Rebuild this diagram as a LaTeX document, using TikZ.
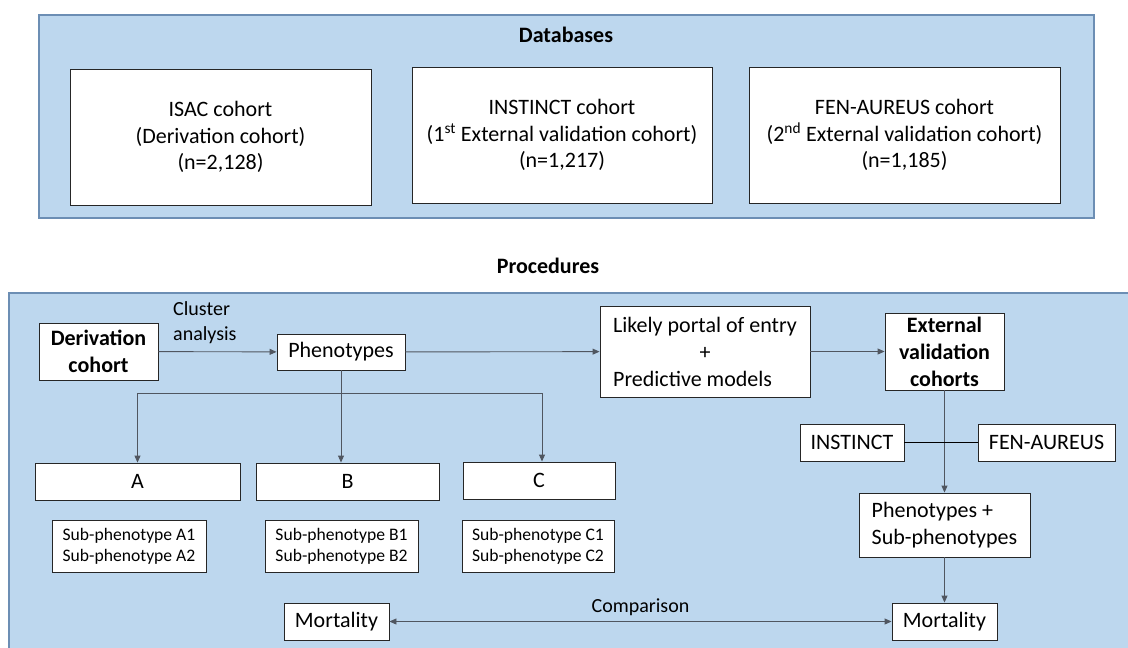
\documentclass[tikz,border=0pt]{standalone}
\usepackage{fontspec}
\setmainfont{Carlito}
\usetikzlibrary{arrows.meta}

\definecolor{panelblue}{RGB}{189,215,238}
\definecolor{paneledge}{RGB}{108,142,180}
\definecolor{linkgray}{RGB}{80,86,96}

\begin{document}
\begin{tikzpicture}[x=1pt,y=1pt,yscale=-1,xscale=1,
  box/.style={draw=black!85,fill=white,line width=0.9pt,inner sep=2pt,align=center,font=\fontsize{22}{26.5}\selectfont},
  boldbox/.style={box,font=\fontsize{22}{27}\selectfont\bfseries},
  subbox/.style={box,font=\fontsize{17.6}{21}\selectfont},
  panel/.style={draw=paneledge,fill=panelblue,line width=1.2pt},
  heading/.style={font=\fontsize{22}{26}\selectfont\bfseries},
  note/.style={font=\fontsize{20}{25}\selectfont,align=left,inner sep=0pt},
  link/.style={draw=linkgray,line width=0.9pt,-{Triangle[length=7pt,width=6pt]}},
  bothlink/.style={link,{Triangle[length=7pt,width=6pt]}-{Triangle[length=7pt,width=6pt]}}]
  \useasboundingbox (0,0) rectangle (1128,648);
  \clip (0,0) rectangle (1128,648);

  % Databases panel
  \draw [panel] (39,15) rectangle (1094,218);
  \node [heading] (dbtitle) at (566,35) {Databases};
  \node [box,minimum width=301pt,minimum height=136pt] (isac) at (220.5,137) {ISAC cohort\\(Derivation cohort)\\(n=2,128)};
  \node [box,minimum width=300pt,minimum height=136pt] (instinctdb) at (562,135) {INSTINCT cohort\\(1\textsuperscript{st} External validation cohort)\\(n=1,217)};
  \node [box,minimum width=311pt,minimum height=136pt] (fendb) at (904.5,135) {FEN-AUREUS cohort\\(2\textsuperscript{nd} External validation cohort)\\(n=1,185)};

  % Procedures panel
  \node [heading] (proctitle) at (548,266) {Procedures};
  \draw [panel] (9,293) rectangle (1140,660);

  \node [boldbox,minimum width=119pt,minimum height=57pt] (deriv) at (98.5,351.5) {Derivation\\cohort};
  \node [box,minimum width=128pt,minimum height=36pt] (pheno) at (341,352) {Phenotypes};
  \node [box,align=left,minimum width=210pt,minimum height=91pt,font=\fontsize{22}{27}\selectfont] (portal) at (705,351.5) {Likely portal of entry\\\null\hfill+\hfill\null\\Predictive models};
  \node [boldbox,minimum width=119pt,minimum height=77pt] (extval) at (944.5,351.5) {External\\validation\\cohorts};
  \node [note,anchor=west] (cluster) at (173,322.5) {Cluster\\analysis};

  \node [box,minimum width=104pt,minimum height=37pt] (instinct) at (852,442.5) {INSTINCT};
  \node [box,minimum width=137pt,minimum height=37pt] (fen) at (1046.5,442.5) {FEN-AUREUS};
  \node [box,align=left,minimum width=171pt,minimum height=64pt,font=\fontsize{22}{27}\selectfont] (phensub) at (944.5,525) {Phenotypes +\\Sub-phenotypes};

  \node [box,minimum width=205pt,minimum height=37pt] (grpA) at (137.5,481.5) {A};
  \node [box,minimum width=183pt,minimum height=37pt] (grpB) at (347.5,481.5) {B};
  \node [box,minimum width=152pt,minimum height=37pt] (grpC) at (539,480.5) {C};
  \node [subbox,minimum width=154pt,minimum height=52pt] (subA) at (129,546) {Sub-phenotype A1\\Sub-phenotype A2};
  \node [subbox,minimum width=153pt,minimum height=52pt] (subB) at (341.5,546) {Sub-phenotype B1\\Sub-phenotype B2};
  \node [subbox,minimum width=152pt,minimum height=52pt] (subC) at (538,546) {Sub-phenotype C1\\Sub-phenotype C2};

  \node [box,minimum width=105pt,minimum height=37pt] (mortL) at (336.5,621.5) {Mortality};
  \node [box,minimum width=105pt,minimum height=37pt] (mortR) at (944.5,621.5) {Mortality};

  % connectors
  \draw [link] (deriv) -- (pheno);
  \draw [link] (pheno) -- (portal);
  \draw [link] (portal) -- (extval);
  \coordinate (split) at (341,393);
  \draw [link] (pheno.south) -- (pheno.south |- grpB.north);
  \draw [link] (split) -| (grpA.north);
  \draw [link] (split) -| ([xshift=3pt]grpC.north);
  \draw [link] (extval) -- (phensub);
  \draw [line width=0.9pt] (instinct) -- (fen);
  \draw [link] (phensub) -- (mortR);
  \draw [bothlink] (mortL) -- node [note,above=5pt] (compare) {Comparison} (mortR);
\end{tikzpicture}
\end{document}
